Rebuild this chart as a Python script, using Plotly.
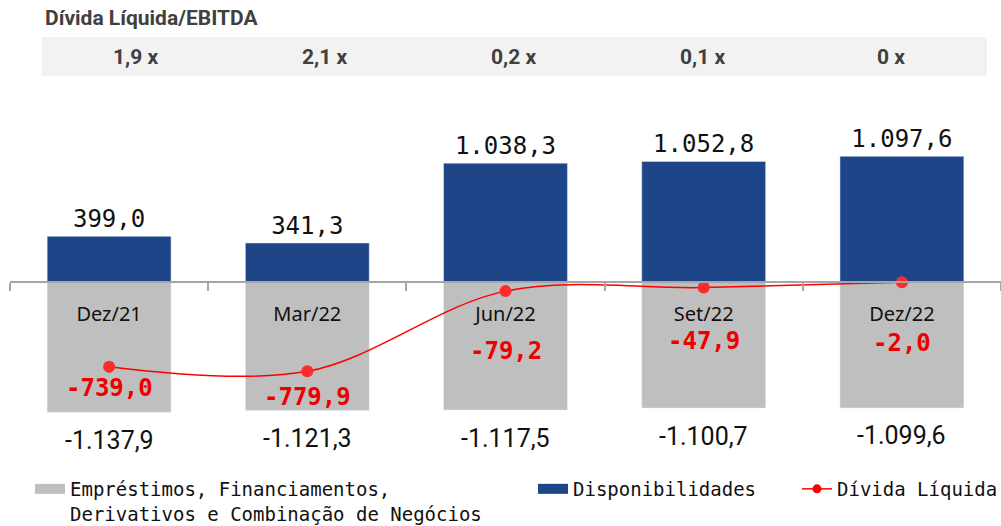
import plotly.graph_objects as go

categories = ["Dez/21", "Mar/22", "Jun/22", "Set/22", "Dez/22"]
disponibilidades = [399.0, 341.3, 1038.3, 1052.8, 1097.6]
emprestimos = [-1137.9, -1121.3, -1117.5, -1100.7, -1099.6]
divida_liquida = [-739.0, -779.9, -79.2, -47.9, -2.0]
divida_ebitda = ["1,9 x", "2,1 x", "0,2 x", "0,1 x", "0 x"]

name_emp = "Empréstimos, Financiamentos,<br>Derivativos e Combinação de Negócios"
name_disp = "Disponibilidades"
name_div = "Dívida Líquida"

BLUE = "#1F4589"
GRAY = "#BFBFBF"
RED = "#FF0000"
MONO = "DejaVu Sans Mono"

W, H = 1001, 526
ML, MR, MT, MB = 10, 0, 90, 70
PW = W - ML - MR
PH = H - MT - MB

# label offsets (px below point) for the Dívida Líquida labels
div_label_offsets = [21, 26, 60, 53, 61]


def br_fmt(v):
    s = f"{v:,.1f}"
    return s.replace(",", "X").replace(".", ",").replace("X", ".")


fig = go.Figure()

fig.add_trace(go.Bar(
    x=categories, y=emprestimos, marker_color=GRAY, name=name_emp,
    showlegend=False, cliponaxis=False,
))
fig.add_trace(go.Bar(
    x=categories, y=disponibilidades, marker_color=BLUE, name=name_disp,
    showlegend=False, texttemplate="%{y:,.1f}", textposition="outside",
    textfont=dict(family=MONO, size=24, color="#111111"), cliponaxis=False,
))
fig.add_trace(go.Scatter(
    x=categories, y=divida_liquida, mode="lines+markers", name=name_div,
    line=dict(color=RED, width=1.5, shape="spline", smoothing=1.0),
    marker=dict(color="#FF2A2A", size=12), showlegend=False, cliponaxis=False,
))

# legend entries
fig.add_trace(go.Scatter(x=[None], y=[None], mode="lines", name=name_emp,
                         line=dict(color=GRAY, width=10), legend="legend"))
fig.add_trace(go.Scatter(x=[None], y=[None], mode="lines", name=name_disp,
                         line=dict(color=BLUE, width=10), legend="legend2"))
fig.add_trace(go.Scatter(x=[None], y=[None], mode="lines+markers", name=name_div,
                         line=dict(color=RED, width=1.5),
                         marker=dict(color=RED, size=9), legend="legend3"))

annotations = []
for c, v in zip(categories, emprestimos):
    annotations.append(dict(
        x=c, y=v, xref="x", yref="y", text=br_fmt(v), showarrow=False,
        yshift=-28, yanchor="middle",
        font=dict(family="Roboto", size=25, color="#111111"),
    ))
for c, v, off in zip(categories, divida_liquida, div_label_offsets):
    annotations.append(dict(
        x=c, y=v, xref="x", yref="y", text=f"<b>{br_fmt(v)}</b>", showarrow=False,
        yshift=-off, yanchor="middle",
        font=dict(family=MONO, size=24, color="#EE0000"),
    ))

# header ratio labels
for i, t in enumerate(divida_ebitda):
    xpx = 135 + 189 * i
    annotations.append(dict(
        x=(xpx - ML) / PW, y=1 + (MT - 57) / PH, xref="paper", yref="paper",
        text=f"<b>{t}</b>", showarrow=False, xanchor="center", yanchor="middle",
        font=dict(family="Roboto", size=21, color="#404040"),
    ))

shapes = [dict(
    type="rect", xref="paper", yref="paper", layer="below",
    x0=(42 - ML) / PW, x1=(987 - ML) / PW,
    y0=1 + (MT - 76) / PH, y1=1 + (MT - 37) / PH,
    fillcolor="#F2F2F2", line=dict(width=0),
)]

ymax, ymin = 1677, -1519
zero_frac = (0 - ymin) / (ymax - ymin)

legend_common = dict(
    orientation="h", xref="container", yref="container", yanchor="top",
    xanchor="left", bgcolor="rgba(0,0,0,0)", valign="top",
    font=dict(family=MONO, size=19, color="#111111"), itemwidth=30,
)

fig.update_layout(
    width=W, height=H,
    margin=dict(l=ML, r=MR, t=MT, b=MB, autoexpand=False),
    paper_bgcolor="white", plot_bgcolor="white",
    barmode="overlay", bargap=0.375,
    separators=",.",
    title=dict(text="<b>Dívida Líquida/EBITDA</b>", x=45 / W, xanchor="left",
               y=1 - 18 / H, yanchor="middle", xref="container", yref="container",
               pad=dict(l=0, r=0, t=0, b=0),
               font=dict(family="Roboto", size=21, color="#404040")),
    xaxis=dict(
        type="category", anchor="free", position=zero_frac,
        showline=True, linecolor="#A6A6A6", linewidth=1.5,
        ticks="outside", tickson="boundaries", ticklen=8, tickcolor="#A6A6A6",
        tickwidth=1.5, ticklabelstandoff=14,
        tickfont=dict(family="Noto Sans", size=20, color="#111111"),
        showgrid=False, zeroline=False, layer="above traces",
    ),
    yaxis=dict(range=[ymin, ymax], visible=False, showgrid=False, zeroline=False),
    legend=dict(legend_common, x=30 / W, y=1 - 470 / H),
    legend2=dict(legend_common, x=533 / W, y=1 - 470 / H),
    legend3=dict(legend_common, x=797 / W, y=1 - 470 / H),
    annotations=annotations,
    shapes=shapes,
)

fig.write_html("out.html", config={"displayModeBar": False},
               post_script="document.body.style.margin='0';")
